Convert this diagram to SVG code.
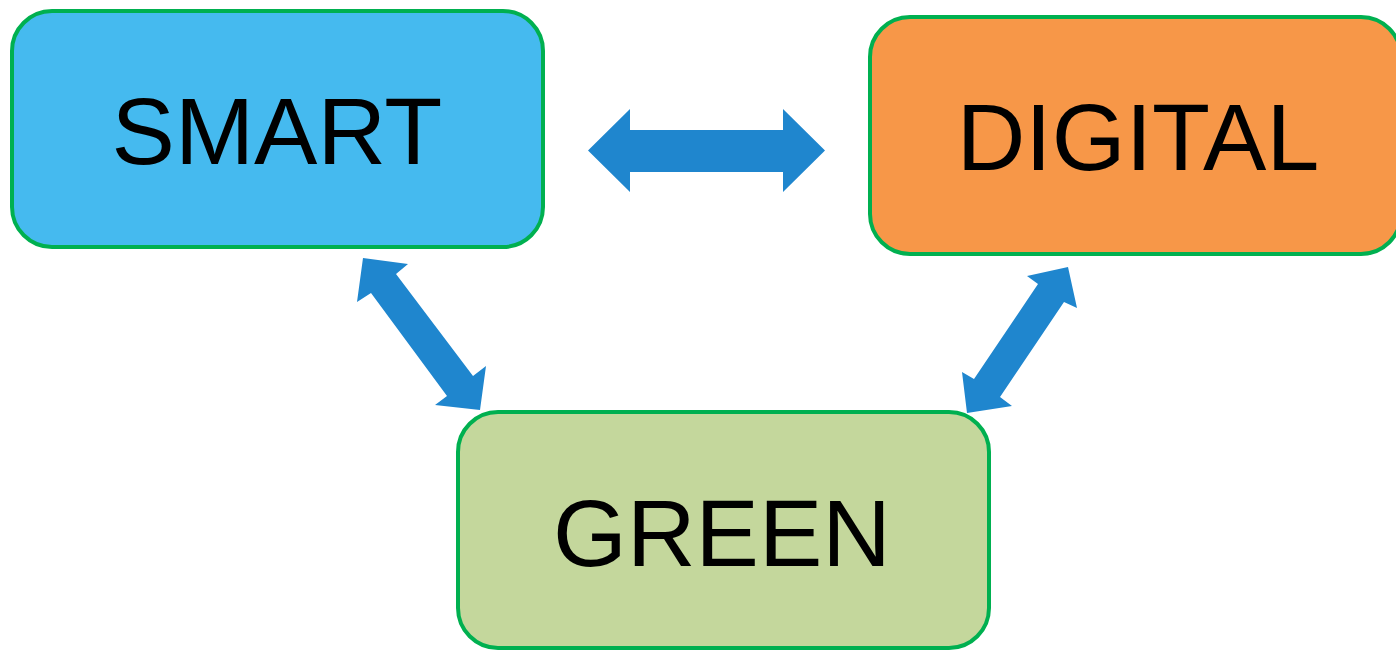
<svg xmlns="http://www.w3.org/2000/svg" width="1396" height="651" viewBox="0 0 1396 651">
  <style>
    .box { stroke: #00B050; stroke-width: 4; }
    .label { font-family: "Liberation Sans", Arial, sans-serif; font-size: 95px; fill: #000000; text-anchor: middle; }
    .arrow { fill: #1F86CE; stroke: none; }
  </style>
  <rect width="1396" height="651" fill="#FFFFFF"/>

  <!-- two-headed block arrows between the three boxes -->
  <g id="connectors">
    <polygon class="arrow" points="588,150.5 630,109 630,130 783,130 783,109 825,150.5 783,192 783,172 630,172 630,192"/>
    <polygon class="arrow" points="363,258 408,264 396,274 473,376 486,366 480,410 435,405 447,396 371,293 357,302"/>
    <polygon class="arrow" points="1068,267 1077,308 1064,302 1000,397 1012,406 967,413 962,372 974,379 1038,284 1027,276"/>
  </g>

  <g id="smart">
    <rect class="box" x="12" y="11" width="531" height="236" rx="40" ry="40" fill="#45BAEF"/>
    <text class="label" x="277" y="164">SMART</text>
  </g>

  <g id="digital">
    <rect class="box" x="870" y="17" width="531" height="237" rx="40" ry="40" fill="#F79748"/>
    <text class="label" x="1138" y="170">DIGITAL</text>
  </g>

  <g id="green">
    <rect class="box" x="458" y="412" width="531" height="236" rx="40" ry="40" fill="#C4D79C"/>
    <text class="label" x="722" y="566">GREEN</text>
  </g>
</svg>
